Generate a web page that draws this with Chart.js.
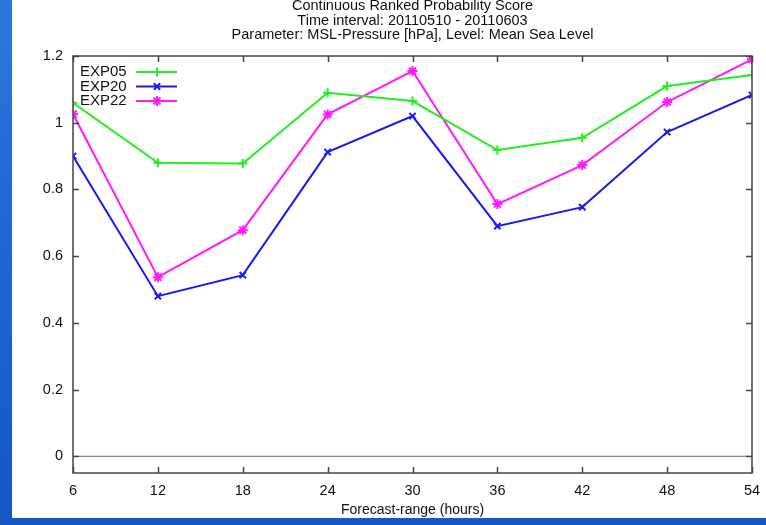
<!DOCTYPE html>
<html>
<head>
<meta charset="utf-8">
<script src="https://cdn.jsdelivr.net/npm/chart.js@4/dist/chart.umd.min.js"></script>
<style>
  html, body { margin: 0; padding: 0; }
  body {
    width: 766px; height: 525px; overflow: hidden; position: relative;
    background: linear-gradient(180deg, #2a78de 0%, #1a62cc 60%, #1458c2 100%);
  }
  #sheet { position: absolute; left: 12px; top: 0; width: 754px; height: 518px; background: #fff; }
  #wrap { position: absolute; left: 0; top: -6px; width: 766px; height: 531px; }
</style>
</head>
<body>
<div id="sheet"></div>
<div id="wrap"><canvas id="crps"></canvas></div>
<script>
const forecastHours = [6, 12, 18, 24, 30, 36, 42, 48, 54];
const exp05 = [1.06, 0.88, 0.878, 1.09, 1.065, 0.918, 0.955, 1.11, 1.143];
const exp20 = [0.90, 0.48, 0.543, 0.912, 1.02, 0.69, 0.747, 0.972, 1.083];
const exp22 = [1.026, 0.537, 0.678, 1.025, 1.155, 0.756, 0.873, 1.062, 1.19];
const yTicks = [0, 0.2, 0.4, 0.6, 0.8, 1, 1.2];
const titleLines = [
    'Continuous Ranked Probability Score',
    'Time interval: 20110510 - 20110603',
    'Parameter: MSL-Pressure [hPa], Level: Mean Sea Level'
];

const FONT = "'Liberation Sans', Arial, sans-serif";
Chart.defaults.font.family = FONT;
Chart.defaults.color = '#222';

const toPoints = (vals) => vals.map((v, i) => ({ x: forecastHours[i], y: v }));

const series = (label, vals, color, style, radius) => ({
    label: label,
    data: toPoints(vals),
    borderColor: color,
    backgroundColor: color,
    borderWidth: 2,
    pointStyle: style,
    pointRadius: radius,
    pointBorderWidth: 2,
    pointHoverRadius: radius,
    tension: 0
});

// gnuplot-like frame: border box, inward ticks on all four sides, zero line
const framePlugin = {
    id: 'frame',
    beforeDatasetsDraw(chart) {
        const { ctx, chartArea: a, scales } = chart;
        ctx.save();
        ctx.strokeStyle = '#888';
        ctx.lineWidth = 1.2;
        const y0 = scales.y.getPixelForValue(0);
        ctx.beginPath();
        ctx.moveTo(a.left, y0);
        ctx.lineTo(a.right, y0);
        ctx.stroke();
        ctx.restore();
    },
    afterDatasetsDraw(chart) {
        const { ctx, chartArea: a, scales } = chart;
        const len = 6;
        ctx.save();
        ctx.strokeStyle = '#444';
        ctx.lineWidth = 1.5;
        ctx.beginPath();
        scales.x.ticks.forEach(t => {
            const px = Math.round(scales.x.getPixelForValue(t.value)) + 0.5;
            ctx.moveTo(px, a.bottom); ctx.lineTo(px, a.bottom - len);
            ctx.moveTo(px, a.top); ctx.lineTo(px, a.top + len);
        });
        scales.y.ticks.forEach(t => {
            const py = Math.round(scales.y.getPixelForValue(t.value)) + 0.5;
            ctx.moveTo(a.left, py); ctx.lineTo(a.left + len, py);
            ctx.moveTo(a.right, py); ctx.lineTo(a.right - len, py);
        });
        ctx.stroke();
        ctx.strokeRect(a.left, a.top, a.right - a.left, a.bottom - a.top);
        ctx.restore();
    }
};

// key in the top-left corner: label first, then line sample with marker
const keyPlugin = {
    id: 'key',
    afterDraw(chart) {
        const { ctx, chartArea: a } = chart;
        ctx.save();
        ctx.font = '15px ' + FONT;
        ctx.textBaseline = 'middle';
        ctx.textAlign = 'left';
        chart.data.datasets.forEach((ds, i) => {
            const y = a.top + 16 + i * 14.5;
            ctx.fillStyle = '#111';
            ctx.fillText(ds.label, a.left + 7, y);
            ctx.strokeStyle = ds.borderColor;
            ctx.lineWidth = ds.borderWidth;
            ctx.beginPath();
            ctx.moveTo(a.left + 63, y);
            ctx.lineTo(a.left + 104, y);
            ctx.stroke();
            ctx.fillStyle = ds.backgroundColor;
            Chart.helpers.drawPoint(ctx, {
                pointStyle: ds.pointStyle,
                radius: ds.pointRadius,
                borderWidth: ds.pointBorderWidth,
                rotation: 0
            }, a.left + 84, y);
        });
        ctx.restore();
    }
};

new Chart(document.getElementById('crps'), {
    type: 'line',
    data: {
        datasets: [
            series('EXP05', exp05, '#22ee22', 'cross', 4.5),
            series('EXP20', exp20, '#1a1aee', 'crossRot', 4.5),
            series('EXP22', exp22, '#ff1aff', 'star', 5)
        ]
    },
    options: {
        responsive: true,
        maintainAspectRatio: false,
        animation: false,
        layout: { padding: { left: 0, right: 14, top: 0, bottom: 0 } },
        plugins: {
            legend: { display: false },
            tooltip: { enabled: false },
            title: {
                display: true,
                fullSize: false,
                text: titleLines,
                color: '#111',
                font: { size: 14.5, weight: 'normal', lineHeight: 1.0 },
                padding: { top: 5, bottom: 13.5 }
            }
        },
        scales: {
            x: {
                type: 'linear',
                min: 6,
                max: 54,
                afterBuildTicks: (s) => { s.ticks = forecastHours.map(v => ({ value: v })); },
                afterFit: (s) => { s.height = 52; s.paddingLeft = 0; s.paddingRight = 0; },
                grid: { display: false, drawTicks: false },
                border: { display: false },
                ticks: { padding: 9, font: { size: 14.5 }, color: '#111', maxRotation: 0 },
                title: {
                    display: true,
                    text: 'Forecast-range (hours)',
                    color: '#111',
                    font: { size: 14 },
                    padding: { top: 0, bottom: 6 }
                }
            },
            y: {
                min: -0.05,
                max: 1.2,
                afterBuildTicks: (s) => { s.ticks = yTicks.map(v => ({ value: v })); },
                afterFit: (s) => { s.width = 73; },
                grid: { display: false, drawTicks: false },
                border: { display: false },
                ticks: {
                    padding: 10,
                    font: { size: 14.5 },
                    color: '#111',
                    callback: (v) => String(Math.round(v * 10) / 10)
                }
            }
        }
    },
    plugins: [framePlugin, keyPlugin]
});
</script>
</body>
</html>
